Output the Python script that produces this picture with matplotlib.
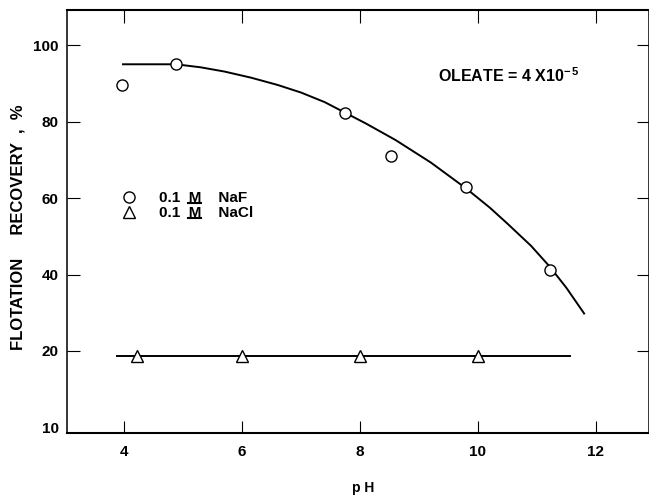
import matplotlib
matplotlib.use('Agg')
import matplotlib.pyplot as plt
from matplotlib.lines import Line2D
import numpy as np

plt.rcParams['font.family'] = ['Liberation Sans', 'DejaVu Sans']
plt.rcParams['font.weight'] = 'bold'
plt.rcParams['mathtext.fontset'] = 'custom'
plt.rcParams['mathtext.rm'] = 'Liberation Sans:bold'
plt.rcParams['mathtext.it'] = 'Liberation Sans:bold'

# measured points, 0.1 M NaF
naf_ph = [3.96, 4.88, 7.75, 8.52, 9.79, 11.22]
naf_rec = [89.5, 95.2, 82.3, 71.1, 62.9, 41.2]

# hand drawn curve through the NaF points
naf_curve_ph = [3.98, 4.88, 5.3, 5.7, 6.15, 6.6, 7.0, 7.4, 7.75, 8.1, 8.6,
                9.2, 9.8, 10.2, 10.5, 10.9, 11.22, 11.5, 11.8]
naf_curve_rec = [95.0, 95.0, 94.2, 93.1, 91.5, 89.6, 87.6, 85.1, 82.3, 79.5,
                 75.2, 69.3, 62.5, 57.5, 53.3, 47.5, 42.0, 36.5, 29.8]

# measured points, 0.1 M NaCl
nacl_ph = [4.21, 6.0, 8.0, 10.0]
nacl_rec = [19.4, 19.4, 19.4, 19.4]
nacl_line_ph = [3.88, 11.56]
nacl_line_rec = [19.3, 19.3]

xticks = [4, 6, 8, 10, 12]
yticks = [10, 20, 40, 60, 80, 100]
legend_labels = ['0.1  M    NaF', '0.1  M    NaCl']


# axis is broken below 20: 10..20 takes the same room as 20..40
def fwd(y):
    y = np.asarray(y, dtype=float)
    return np.where(y >= 20, y, 2 * y - 20)


def inv(s):
    s = np.asarray(s, dtype=float)
    return np.where(s >= 20, s, (s + 20) / 2)


fig = plt.figure(figsize=(6.49, 4.97), dpi=100)
ax = fig.add_axes([67 / 649, 1 - 433 / 497, 582 / 649, 423 / 497])
ax.set_yscale('function', functions=(fwd, inv))

ax.plot(naf_curve_ph, naf_curve_rec, color='black', lw=1.4, zorder=2)
ax.plot(nacl_line_ph, nacl_line_rec, color='black', lw=1.4, zorder=2)
naf_pts, = ax.plot(naf_ph, naf_rec, 'o', ms=8, mfc='white', mec='black',
                   mew=1.0, ls='none', zorder=3)
nacl_pts, = ax.plot(nacl_ph, nacl_rec, '^', ms=8, mfc='white', mec='black',
                    mew=1.0, ls='none', zorder=3)

ax.set_xlim(3.03, 12.9)
ax.set_ylim(9.27, 109.2)
ax.set_xticks(xticks)
ax.set_yticks(yticks)
ax.set_xticklabels([str(t) for t in xticks])
ax.set_yticklabels([str(t) for t in yticks])
ax.tick_params(axis='both', direction='in', length=9, width=0.8,
               top=True, right=True, labelsize=11, colors='black')
ax.tick_params(axis='x', pad=9)
ax.tick_params(axis='y', pad=6)
ax.yaxis.get_major_ticks()[0].tick1line.set_visible(False)
ax.yaxis.get_major_ticks()[0].tick2line.set_visible(False)
for side in ['top', 'bottom']:
    ax.spines[side].set_linewidth(1.5)
for side in ['left', 'right']:
    ax.spines[side].set_linewidth(1.1)

ax.text(9.33, 90.4, r'OLEATE = 4 X10$^{-\,5}$', fontsize=11.5,
        ha='left', va='baseline')

leg = ax.legend([naf_pts, nacl_pts], legend_labels,
                loc='upper left', bbox_to_anchor=(0.093, 0.572), frameon=False,
                fontsize=11, handlelength=1.0, handletextpad=1.46,
                borderpad=0, borderaxespad=0, labelspacing=0.08)

fig.text(18.5 / 649, 1 - 227.5 / 497, 'FLOTATION     RECOVERY  ,  %',
         rotation=90, ha='center', va='center', fontsize=12)
fig.text(363.5 / 649, 1 - 488 / 497, 'p H', ha='center', va='center',
         fontsize=10)

# underline the molarity "M" in the legend (mathtext has no \underline)
fig.canvas.draw()
renderer = fig.canvas.get_renderer()
W, H = fig.bbox.width, fig.bbox.height
for t in leg.get_texts():
    bb = t.get_window_extent(renderer)
    pre = fig.text(0, 0, '0.1  ', fontsize=11)
    wpre = pre.get_window_extent(renderer).width
    pre.set_text('0.1  M')
    wm = pre.get_window_extent(renderer).width
    pre.remove()
    y = bb.y0 + 2
    fig.add_artist(Line2D([(bb.x0 + wpre) / W, (bb.x0 + wm) / W],
                          [y / H, y / H], color='black', lw=1.5,
                          transform=fig.transFigure))

fig.savefig('out.png', dpi=100)
